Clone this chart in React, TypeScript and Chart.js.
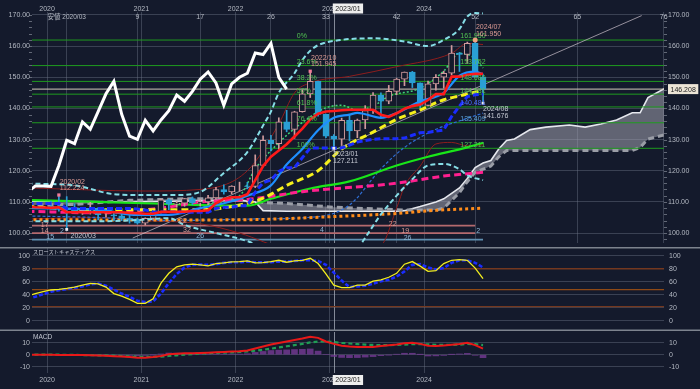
import React, { useEffect, useRef } from "react";
import { Chart, registerables } from "chart.js";

Chart.register(...registerables);

// ================= DATA =================
// monthly candles, month index m = 0 is 2020/01
const candleStartM = 0;
const opens = [
  108.6, 108.4, 108.0, 107.5, 107.2, 107.8, 107.9, 105.9, 105.9, 105.5, 104.7, 104.3,
  103.2, 104.7, 106.6, 110.7, 109.3, 109.6, 111.1, 109.7, 110.0, 111.3, 114.0, 113.2,
  115.1, 115.1, 115.0, 121.7, 129.8, 128.7, 135.7, 133.3, 139.0, 144.7, 148.7, 138.1,
  131.1, 130.1, 136.2, 132.8, 136.3, 139.3, 144.3, 142.3, 145.5, 149.4, 151.7, 148.2,
  141.0, 147.9, 150.0, 151.3, 157.8, 157.3, 160.9, 150.0,
];
const highs = [
  110.3, 112.224, 111.7, 109.4, 108.1, 109.85, 108.2, 107.05, 106.55, 106.1, 105.7, 104.75,
  104.9, 106.7, 110.95, 110.97, 110.2, 111.1, 111.6, 110.8, 112.1, 114.7, 115.5, 115.2,
  116.35, 116.3, 125.1, 131.25, 131.35, 137.0, 139.4, 139.1, 145.9, 151.945, 148.8, 138.2,
  131.6, 136.9, 137.9, 136.6, 140.9, 145.1, 145.0, 147.4, 149.7, 151.7, 151.9, 148.2,
  148.8, 150.9, 151.97, 160.2, 157.99, 161.3, 161.95, 150.9,
];
const lows = [
  107.7, 107.0, 101.18, 106.4, 106.0, 106.1, 104.2, 105.1, 104.0, 104.0, 103.2, 102.9,
  102.6, 104.4, 106.4, 107.5, 108.3, 108.6, 109.1, 108.7, 109.1, 110.8, 112.5, 112.6,
  113.5, 114.2, 114.6, 121.3, 126.35, 126.9, 132.5, 130.4, 138.8, 143.5, 137.5, 130.6,
  127.211, 128.1, 129.6, 130.6, 133.5, 138.4, 137.25, 141.5, 144.4, 147.3, 146.7, 140.25,
  140.8, 145.9, 146.5, 150.8, 151.86, 154.5, 151.9, 141.676,
];
const closes = [
  108.4, 107.9, 107.5, 107.2, 107.8, 107.9, 105.9, 105.9, 105.5, 104.7, 104.3, 103.2,
  104.7, 106.6, 110.7, 109.3, 109.6, 111.1, 109.7, 110.0, 111.3, 114.0, 113.2, 115.1,
  115.1, 115.0, 121.7, 129.8, 128.7, 135.7, 133.3, 138.95, 144.7, 148.7, 138.1, 131.1,
  130.1, 136.2, 132.8, 136.3, 139.3, 144.3, 142.3, 145.5, 149.4, 151.7, 148.2, 141.0,
  147.9, 150.0, 151.3, 157.8, 157.3, 160.9, 150.0, 146.208,
];
const lastPrice = 146.208;
const lastPriceText = "146.208";

// Ichimoku
const chikouShift = 25;
const chikouFirstIndex = 22;
const lineStartM = -3;
const tenkan = [
  108.5, 108.3, 108.2, 108.1, 108.3, 106.7, 106.7, 106.7, 106.7, 106.7, 106.7, 106.7, 106.7,
  106.45, 106.4, 106.2, 106.2, 106.8, 106.8, 106.8, 106.85, 107.1, 107.1, 107.35, 109.55,
  110.95, 111.5, 111.5, 112.5, 117, 121.5, 124.5, 126.5, 128.5, 131, 133.5, 136.5, 138.3,
  139, 139.2, 139.4, 139.6, 139.6, 139.6, 139.6, 138, 137.3, 138.45, 139.9, 140.75, 141.25,
  142.7, 144.6, 144.6, 150.2, 150.2, 150.8, 151.1, 151.1,
];
const kijun = [
  109.5, 109.5, 109.5, 109.5, 109.5, 107.9, 107.9, 107.9, 107.9, 107.9, 107.9, 107.9, 107.9,
  107.9, 107.7, 107.4, 106.8, 106.8, 106.8, 106.8, 106.7, 106.7, 106.7, 106.7, 107.9, 108.3,
  108.3, 108.8, 108.8, 113.1, 116.2, 117.0, 119.8, 121.0, 121.0, 124.2, 127.3, 127.3, 127.3,
  127.3, 127.3, 128.2, 129.2, 129.7, 130.1, 130.3, 130.3, 130.3, 130.5, 131.4, 132.2, 132.3,
  132.7, 133.1, 137.4, 140.75, 143.8, 144.4, 144.6,
];
const cloudM = [-3, 3, 10, 17, 24, 26, 27, 30, 36, 44, 45, 47, 49, 50, 52, 53, 54, 55, 56, 57, 58, 59, 61, 63, 66, 68, 70, 72, 74, 75, 76, 78, 79];
const spanA = [110.2, 110.2, 110.0, 110.3, 110.5, 110.0, 107.2, 107.0, 107.0, 107.0, 107.2, 108.5, 110.0, 111.0, 114.5, 117.5, 121.0, 122.5, 123.3, 127.0, 129.7, 130.2, 133.2, 134.0, 134.7, 134.0, 135.0, 136.3, 138.6, 138.6, 143.5, 146.2, 146.5];
const spanB = [109.0, 109.2, 110.5, 111.0, 111.0, 110.3, 109.8, 109.5, 108.3, 107.5, 107.4, 107.4, 107.4, 108.0, 113.0, 116.5, 119.5, 120.5, 121.5, 124.5, 126.5, 126.5, 126.5, 126.5, 126.5, 126.5, 126.5, 126.5, 126.5, 127.5, 130.2, 131.5, 131.8];

// moving averages / bands  [month, value]
const yellowMA = [[-3, 108.5], [6, 107.5], [19, 107.5], [24, 109], [27, 111.2], [30, 115.3], [34, 120], [37, 127], [41, 132.4], [44, 136.5], [47, 139.5], [50, 142.8], [52, 144], [55, 145.8]];
const greenMA = [[-3, 110.6], [6, 110], [13, 109.5], [19, 109], [25, 108.8], [28, 111], [33, 114.3], [38, 116.6], [44, 121.7], [48, 124.5], [53, 127.5], [55, 129]];
const magentaMA = [[-3, 107], [6, 106.5], [14, 108], [19, 110], [25, 110.8], [32, 113.3], [44, 116], [50, 118.3], [55, 119.5]];
const orangeMA = [[-3, 104.3], [13, 104.2], [25, 104.3], [36, 105.3], [44, 106.3], [49, 107.3], [55, 108]];
const blueMA = [[-3, 108], [6, 107.5], [11, 105.8], [15, 105.8], [19, 108], [23, 110.2], [25, 112], [28, 115.3], [30, 122], [32, 127], [34, 133], [36, 137], [38, 138], [39, 138.6], [42, 137], [44, 138.5], [47, 142.3], [50, 145], [52, 150.5], [54, 151.8], [55, 151]];
const bandUpper = [[-3, 115.9], [3, 115.3], [8, 112.5], [12, 112.2], [16, 112.2], [19, 113.2], [22, 119.3], [25, 126], [27, 134.5], [28, 139], [29, 145], [31, 151.3], [32, 155.5], [33, 158.5], [34, 160.3], [37, 162], [41, 162.5], [45, 161.5], [48, 160], [50, 162], [52, 165.5], [53, 169.5], [54, 170.6], [55, 170.5]];
const bandLower = [[-3, 103.8], [6, 103.8], [11, 104.2], [15, 104.8], [17, 102.6], [21, 100], [25, 97.4], [28, 94], [32, 90], [36, 90], [39, 95], [40, 98.5], [42, 106], [44, 112], [46, 117.3], [48, 121.7], [50, 122.2], [52, 120.5], [53, 118.5], [55, 117]];
const greenDotted = [[20, 109.5], [24, 112], [26, 120.6], [29, 129], [32, 135.5], [35, 140.2], [37, 141], [39, 139.5], [41, 140.7], [43, 143.9], [47, 146.5], [50, 152], [52, 157.7], [54, 156], [55, 153]];
const redThinUpper = [[-3, 114.5], [12, 113.5], [19, 114], [25, 120], [29, 135], [31, 145], [33, 148.2], [38, 150.3], [44, 153.4], [51, 157.7], [53, 160.9], [55, 160.5]];
const redThinLower = [[-3, 104.5], [6, 105], [12, 104], [19, 103], [24, 100], [30, 95], [38, 94], [42, 96], [44, 108], [45, 115], [47, 121.5], [49, 128.6], [51, 129.1], [53, 128], [55, 128.3]];
const blueThin = [[-3, 105.5], [6, 105], [15, 104], [25, 104.5], [34, 105.3], [38, 109], [42, 120.6], [45, 127.5], [49, 133.3], [52, 136], [55, 138.5]];
const trendLine = [[10.4, 98.4], [75.2, 169.8]];

// Fibonacci retracement 2023/01 low -> 2024/07 high
const fibLevels = [161.95, 153.752, 148.68, 144.581, 140.481, 135.409, 127.211];
const fibNames = ["0%", "23.6%", "38.2%", "50%", "61.8%", "76.4%", "100%"];
const fibValueText = ["161.950", "153.752", "148.680", "144.581", "140.481", "135.409", "127.211"];

// time-count lines at the bottom
const countLevels = [102.4, 100.0, 97.9];
const countLineEndM = [54, 54, 55];
const countNotes = [
  { m: -0.8, v: 102.7, t: "17", k: 0 }, { m: -0.8, v: 100.6, t: "14", k: 0 }, { m: -0.1, v: 98.6, t: "15", k: 2 },
  { m: 1.4, v: 100.6, t: "2", k: 2 }, { m: 16.8, v: 103.8, t: "22", k: 0 }, { m: 17.3, v: 101.1, t: "32", k: 0 },
  { m: 19, v: 98.9, t: "26", k: 2 }, { m: 34.5, v: 101, t: "4", k: 2 }, { m: 43.5, v: 102.9, t: "22", k: 0 },
  { m: 45.1, v: 100.6, t: "19", k: 0 }, { m: 45.4, v: 98.4, t: "26", k: 2 }, { m: 54.4, v: 100.6, t: "2", k: 2 },
];
const lowNote = { m: 4.1, v: 98.9, t: "2020/03" };
const extremeNotes = [
  { m: 1.1, v: 116.45, t: "2020/02", k: 0 }, { m: 1.1, v: 114.3, t: "112.224", k: 0 },
  { m: 33.1, v: 156.3, t: "2022/10", k: 0 }, { m: 33.1, v: 154.1, t: "151.945", k: 0 },
  { m: 54.1, v: 166.2, t: "2024/07", k: 0 }, { m: 54.1, v: 163.9, t: "161.950", k: 0 },
  { m: 35.9, v: 125.45, t: "2023/01", k: 1 }, { m: 35.9, v: 123.07, t: "127.211", k: 1 },
  { m: 55.0, v: 139.8, t: "2024/08", k: 1 }, { m: 55.0, v: 137.4, t: "141.676", k: 1 },
];
const highMarkIdx = [1, 33];
const peakMarkIdx = [54];
const lowMarkIdx = [2, 36, 55];

// stochastics & MACD, from month -3
const stochK = [38, 42, 45, 47.5, 48.5, 50, 52, 55, 57.5, 57, 52, 42, 38, 33, 27, 27, 34, 58, 73, 83, 86, 87, 86, 84.5, 88, 89, 90.5, 91, 92, 89, 89.5, 91, 93, 90, 92, 93, 96, 88, 72, 55, 51, 51, 55, 55, 61, 63, 67, 73, 87, 91, 84, 76, 77, 88, 93, 94, 93, 81, 65];
const stochD = [34, 37, 41, 45, 47, 49, 51, 53, 56, 57.5, 54, 48, 42, 37, 31, 29, 30, 42, 58, 72, 82, 86, 86.5, 86, 87, 89, 90, 90, 91, 90, 90, 90, 91, 91, 92, 93, 93, 92, 86, 74, 62, 52, 53, 54, 57, 61, 63, 68, 76, 86, 87, 82, 79, 81, 89, 93, 93, 89, 82];
const stochLevels = [80, 48, 22];
const macdLine = [0, 0, 0, 0, -0.2, -0.3, -0.3, -0.3, -0.4, -0.6, -0.8, -1.2, -1.6, -2, -2.5, -2.5, -2, -1, 0.3, 0.8, 1.1, 1.3, 1.5, 1.7, 2.0, 2.3, 2.6, 2.8, 3.5, 5.2, 6.8, 8.5, 9.8, 11, 12.3, 13.5, 15, 14, 11, 9, 7.5, 6.8, 6.4, 6.4, 6.5, 7.2, 7.8, 8.4, 9.6, 10, 9, 7.5, 7.3, 7.6, 8.3, 9, 10, 8, 5];
const signalLine = [0, 0, 0, 0, 0, -0.1, -0.2, -0.3, -0.4, -0.5, -0.6, -0.8, -1.1, -1.4, -1.7, -1.9, -1.9, -1.6, -1.1, -0.5, 0.1, 0.5, 0.9, 1.2, 1.5, 1.8, 2.0, 2.3, 2.7, 3.3, 4.1, 5.0, 6.0, 7.0, 8.0, 9.0, 10.2, 11, 11, 10.5, 9.8, 9.3, 8.8, 8.4, 8.1, 8.0, 8.0, 8.1, 8.4, 8.8, 8.9, 8.6, 8.3, 8.2, 8.2, 8.4, 8.9, 8.8, 8];
const macdHist = [0, 0, 0, 0, -0.2, -0.2, -0.1, 0, 0, -0.1, -0.2, -0.4, -0.5, -0.6, -0.8, -0.6, -0.1, 0.6, 1.4, 1.3, 1.0, 0.8, 0.6, 0.5, 0.5, 0.5, 0.6, 0.5, 0.8, 1.9, 2.7, 3.5, 3.8, 4.0, 4.3, 4.5, 4.8, 3.0, 0, -1.5, -2.3, -2.5, -2.4, -2.0, -1.6, -0.8, -0.2, 0.3, 1.2, 1.2, 0.1, -1.1, -1.0, -0.6, 0.1, 0.6, 1.1, -0.5, -2.5];

// axes
const yearLabels = ["2020", "2021", "2022", "2023", "2024"];
const yearStartM = [0, 12, 24, 36, 48];
const countBaseM = 2;
const countBaseLabel = "安値 2020/03";
const countNumbers = [9, 17, 26, 33, 42, 52, 65, 76];
const crosshairM = 36;
const crosshairLabel = "2023/01";
const priceTicks = [100, 110, 120, 130, 140, 150, 160, 170];
const stochTicks = [0, 20, 40, 60, 80, 100];
const macdTicks = [-10, 0, 10];

// ================= STYLE / LAYOUT =================
const BG = "#141a2c";
const GRID = "rgba(112,120,138,0.42)";
const AXIS_TEXT = "#b4b9c3";
const FONT = "'Liberation Sans', Arial, sans-serif";
const JP_FONT = "'Noto Sans CJK JP', sans-serif";
const BULL = "#cf9a9c";
const BEAR = "#2a9fd4";
const FIB_GREEN = "#1f9b1f";
const SALMON = "#dc9a94";
const LIGHT = "#c4c8d2";
const X_MIN = -2.42;
const X_MAX = 78.04;
const PRICE_MIN = 96.82;
const PRICE_MAX = 170.95;
const STOCH_MIN = -13.8;
const STOCH_MAX = 111.8;
const MACD_MIN = -15.25;
const MACD_MAX = 18.9;
const countColors = ["#b46a6e", "#b46a6e", "#5f8fb0"];
const noteColors = [SALMON, LIGHT, "#8fb8d8"];

const seq = (start: number, vals: number[]) => vals.map((v, i) => ({ x: start + i, y: v }));
const pairs = (arr: number[][]) => arr.map(([m, v]) => ({ x: m, y: v }));
const hline = (v: number, x0 = X_MIN, x1 = X_MAX) => [{ x: x0, y: v }, { x: x1, y: v }];
const fmt2 = (v: number) => Number(v).toFixed(2);

function line(data: any[], color: string, width: number, dash: number[], order: number, extra: any = {}) {
  return {
    type: "line", data, borderColor: color, borderWidth: width, borderDash: dash,
    pointRadius: 0, pointHoverRadius: 0, fill: false, order, tension: 0, ...extra,
  };
}
const smooth = { cubicInterpolationMode: "monotone" };

function xScale(ticksM: number[]) {
  return {
    type: "linear", min: X_MIN, max: X_MAX, offset: false,
    afterBuildTicks: (s: any) => { s.ticks = ticksM.map((v) => ({ value: v })); },
    afterFit: (s: any) => { s.height = 0; s.paddingLeft = 0; s.paddingRight = 0; s.paddingTop = 0; s.paddingBottom = 0; },
    ticks: { display: false },
    grid: { color: GRID, drawTicks: false, offset: false, lineWidth: 1 },
    border: { display: false },
  };
}
function yScale(pos: string, min: number, max: number, ticks: number[], fmt: (v: number) => string, width: number, padding: number, grid: boolean) {
  return {
    position: pos, min, max,
    afterBuildTicks: (s: any) => { s.ticks = ticks.map((v) => ({ value: v })); },
    afterFit: (s: any) => { s.width = width; s.paddingTop = 0; s.paddingBottom = 0; s.paddingLeft = 0; s.paddingRight = 0; },
    ticks: { color: AXIS_TEXT, font: { size: 7, family: FONT }, padding, autoSkip: false, maxRotation: 0, callback: (v: any) => fmt(v) },
    grid: grid ? { color: GRID, drawTicks: false, lineWidth: 1 } : { display: false, drawTicks: false },
    border: { display: false },
  };
}

function text(ctx: any, s: string, x: number, y: number, color: string, size: number, align = "left", family = FONT) {
  ctx.font = `${size}px ${family}`;
  ctx.fillStyle = color;
  ctx.textAlign = align;
  ctx.textBaseline = "middle";
  ctx.fillText(s, x, y);
}
function box(ctx: any, s: string, left: number, cy: number, bg: string, fg: string, size: number) {
  ctx.font = `${size}px ${FONT}`;
  const w = ctx.measureText(s).width + 5;
  ctx.fillStyle = bg;
  ctx.fillRect(left, cy - 5, w, 10);
  text(ctx, s, left + 2.5, cy + 0.5, fg, size);
}
function crosshair(chart: any) {
  const { ctx, chartArea: a, scales } = chart;
  const cx = Math.round(scales.x.getPixelForValue(crosshairM)) + 0.5;
  ctx.save();
  ctx.strokeStyle = "rgba(170,176,188,0.75)";
  ctx.lineWidth = 1;
  ctx.beginPath();
  ctx.moveTo(cx, a.top);
  ctx.lineTo(cx, a.bottom);
  ctx.stroke();
  ctx.restore();
}

const yearGridM = yearStartM.map((m) => m - 0.5);
const countGridM = countNumbers.map((n) => countBaseM + n);

const mainOverlay = {
  id: "mainOverlay",
  beforeDatasetsDraw(chart: any) {
    crosshair(chart);
    const { ctx, chartArea: a, scales } = chart;
    ctx.save();
    ctx.strokeStyle = "rgba(150,156,168,0.6)";
    ctx.lineWidth = 1;
    for (let v = 98; v <= 170; v += 2) {
      const py = Math.round(scales.y.getPixelForValue(v)) + 0.5;
      ctx.beginPath();
      ctx.moveTo(a.left - 3, py); ctx.lineTo(a.left, py);
      ctx.moveTo(a.right, py); ctx.lineTo(a.right + 3, py);
      ctx.stroke();
    }
    ctx.restore();
  },
  afterDatasetsDraw(chart: any) {
    const { ctx, chartArea: a, scales } = chart;
    const X = (m: number) => scales.x.getPixelForValue(m);
    const Y = (v: number) => scales.y.getPixelForValue(v);
    ctx.save();
    yearLabels.forEach((s, i) => text(ctx, s, X(yearGridM[i]), 9, AXIS_TEXT, 7, "center"));
    countNumbers.forEach((n, i) => text(ctx, String(n), X(countGridM[i]), 17, AXIS_TEXT, 7, "center"));
    text(ctx, countBaseLabel, X(countBaseM), 17, AXIS_TEXT, 6.5, "center", `'Liberation Sans', ${JP_FONT}`);
    box(ctx, crosshairLabel, X(crosshairM) - 1, 8.5, "#eeeeee", "#202020", 7);
    fibLevels.forEach((v, i) => {
      text(ctx, fibNames[i], X(31.3), Y(v) - 3.5, "#52c452", 7);
      const c = i === 4 ? "#4a6cff" : i === 5 ? "#5aa0d8" : "#52c452";
      text(ctx, fibValueText[i], X(52.1), Y(v) - 3.5, c, 7);
    });
    countNotes.forEach((n) => text(ctx, n.t, X(n.m), Y(n.v), noteColors[n.k], 7, "center"));
    text(ctx, lowNote.t, X(lowNote.m), Y(lowNote.v), LIGHT, 7, "center");
    extremeNotes.forEach((n) => text(ctx, n.t, X(n.m), Y(n.v), noteColors[n.k], 7, "left"));
    box(ctx, lastPriceText, a.right + 4, Y(lastPrice), "#ece4d6", "#222", 7);
    ctx.restore();
  },
};

const stochOverlay = {
  id: "stochOverlay",
  beforeDatasetsDraw(chart: any) { crosshair(chart); },
  afterDatasetsDraw(chart: any) {
    const { ctx, width, height } = chart;
    ctx.save();
    ctx.strokeStyle = "#7d838e";
    ctx.lineWidth = 1.5;
    ctx.beginPath();
    ctx.moveTo(0, 0.75); ctx.lineTo(width, 0.75);
    ctx.moveTo(0, height - 0.75); ctx.lineTo(width, height - 0.75);
    ctx.stroke();
    text(ctx, "スローストキャスティクス", 33, 5, LIGHT, 5.2, "left", JP_FONT);
    ctx.restore();
  },
};

const macdOverlay = {
  id: "macdOverlay",
  beforeDatasetsDraw(chart: any) { crosshair(chart); },
  afterDatasetsDraw(chart: any) {
    const { ctx, chartArea: a, scales } = chart;
    const X = (m: number) => scales.x.getPixelForValue(m);
    ctx.save();
    text(ctx, "MACD", 33, 6, LIGHT, 6.5, "left");
    yearLabels.forEach((s, i) => text(ctx, s, X(yearGridM[i]), a.bottom + 7, AXIS_TEXT, 7, "center"));
    box(ctx, crosshairLabel, X(crosshairM) - 1, a.bottom + 7, "#eeeeee", "#202020", 7);
    ctx.restore();
  },
};

function mainConfig(): any {
  const ms = opens.map((_, i) => candleStartM + i);
  const bull = opens.map((o, i) => closes[i] >= o);
  const chikou = closes.slice(chikouFirstIndex).map((c, i) => ({ x: candleStartM + chikouFirstIndex + i - chikouShift, y: c }));
  const datasets: any[] = [
    line(cloudM.map((m, i) => ({ x: m, y: spanA[i] })), "#e6e8ee", 1.6, [], 100, { fill: "+1", backgroundColor: "rgba(160,163,174,0.55)" }),
    line(cloudM.map((m, i) => ({ x: m, y: spanB[i] })), "#9a9da6", 3, [6, 4], 99),
    ...fibLevels.map((v) => line(hline(v), FIB_GREEN, 1, [], 95)),
    line(hline(lastPrice), "#d6cdbd", 1, [], 94),
    ...countLevels.map((v, i) => line(hline(v, X_MIN, countLineEndM[i]), countColors[i], 1.6, [], 93)),
    line(pairs(trendLine), "rgba(205,195,205,0.7)", 1, [], 90),
    line(pairs(redThinUpper), "#8e1d1d", 1, [], 72, smooth),
    line(pairs(redThinLower), "#8e1d1d", 1, [], 72, smooth),
    line(pairs(blueThin), "#2f6fd6", 1.2, [3, 2], 71, smooth),
    line(pairs(greenDotted), "#3fd27a", 1.5, [2, 2], 70, smooth),
    line(pairs(orangeMA), "#ff8c1a", 3, [3, 3], 66, smooth),
    line(pairs(greenMA), "#19e619", 2.2, [], 65, smooth),
    line(pairs(magentaMA), "#ff1f8f", 3, [7, 4], 64, smooth),
    line(pairs(yellowMA), "#f5f01c", 3, [7, 4], 63, smooth),
    {
      type: "bar", data: ms.map((m, i) => ({ x: m, y: [lows[i], highs[i]] })),
      backgroundColor: bull.map((b) => (b ? BULL : BEAR)), borderWidth: 0,
      barThickness: 1, grouped: false, order: 56,
    },
    {
      type: "bar", data: ms.map((m, i) => ({ x: m, y: [opens[i], closes[i]] })),
      backgroundColor: bull.map((b) => (b ? BG : BEAR)), borderColor: bull.map((b) => (b ? BULL : BEAR)),
      borderWidth: 1, borderSkipped: false, barThickness: 6, grouped: false, order: 55,
    },
    line(pairs(bandUpper), "#86dde6", 2, [5, 3], 50, smooth),
    line(pairs(bandLower), "#86dde6", 2, [5, 3], 50, smooth),
    line(pairs(blueMA), "#1e8fff", 2.2, [], 44, smooth),
    line(seq(lineStartM, kijun), "#1a2cff", 3, [6, 3], 43),
    line(seq(lineStartM, tenkan), "#ff1a1a", 2.6, [], 42),
    line(chikou, "#ffffff", 3, [], 30),
    { type: "line", showLine: false, data: highMarkIdx.map((i) => ({ x: ms[i], y: highs[i] })), pointStyle: "rect", pointRadius: 2.3, pointBackgroundColor: "#f07a98", pointBorderWidth: 0, order: 5 },
    { type: "line", showLine: false, data: peakMarkIdx.map((i) => ({ x: ms[i], y: highs[i] })), pointStyle: "circle", pointRadius: 2.5, pointBackgroundColor: "#f0a080", pointBorderWidth: 0, order: 5 },
    { type: "line", showLine: false, data: lowMarkIdx.map((i) => ({ x: ms[i], y: lows[i] })), pointStyle: "rect", pointRadius: 2, pointBackgroundColor: "#e8eaf2", pointBorderWidth: 0, order: 5 },
  ];
  return {
    type: "bar",
    data: { datasets },
    options: {
      animation: false, responsive: false, maintainAspectRatio: false,
      events: [],
      layout: { padding: { top: 12, bottom: 2, left: 0, right: 0 } },
      plugins: { legend: { display: false }, tooltip: { enabled: false } },
      scales: {
        x: xScale([...yearGridM, countBaseM, ...countGridM]),
        y: yScale("left", PRICE_MIN, PRICE_MAX, priceTicks, fmt2, 32, 2, true),
        y2: yScale("right", PRICE_MIN, PRICE_MAX, priceTicks, fmt2, 36, 4, false),
      },
    },
    plugins: [mainOverlay],
  };
}

function stochConfig(): any {
  return {
    type: "line",
    data: {
      datasets: [
        ...stochLevels.map((v, i) => line(hline(v), i === 1 ? "#8f4a16" : "#74381f", 1.3, [], 20)),
        line(seq(lineStartM, stochD), "#1a2cff", 2.6, [4, 2], 11),
        line(seq(lineStartM, stochK), "#f2ee1e", 1.3, [], 10),
      ],
    },
    options: {
      animation: false, responsive: false, maintainAspectRatio: false, events: [],
      layout: { padding: { top: 1, bottom: 1, left: 0, right: 0 } },
      plugins: { legend: { display: false }, tooltip: { enabled: false } },
      scales: {
        x: xScale(yearGridM),
        y: yScale("left", STOCH_MIN, STOCH_MAX, stochTicks, (v) => String(v), 32, 2, true),
        y2: yScale("right", STOCH_MIN, STOCH_MAX, stochTicks, (v) => String(v), 36, 5, false),
      },
    },
    plugins: [stochOverlay],
  };
}

function macdConfig(): any {
  return {
    type: "bar",
    data: {
      datasets: [
        { type: "bar", data: seq(lineStartM, macdHist), backgroundColor: "rgba(118,58,150,0.8)", barThickness: 6, grouped: false, order: 30 },
        line(seq(lineStartM, signalLine), "#1f9d55", 2.2, [4, 3], 20),
        line(seq(lineStartM, macdLine), "#e81818", 2, [], 10),
      ],
    },
    options: {
      animation: false, responsive: false, maintainAspectRatio: false, events: [],
      layout: { padding: { top: 1, bottom: 16, left: 0, right: 0 } },
      plugins: { legend: { display: false }, tooltip: { enabled: false } },
      scales: {
        x: xScale(yearGridM),
        y: yScale("left", MACD_MIN, MACD_MAX, macdTicks, (v) => String(v), 32, 2, true),
        y2: yScale("right", MACD_MIN, MACD_MAX, macdTicks, (v) => String(v), 36, 5, false),
      },
    },
    plugins: [macdOverlay],
  };
}

export default function App() {
  const mainRef = useRef<HTMLCanvasElement>(null);
  const stochRef = useRef<HTMLCanvasElement>(null);
  const macdRef = useRef<HTMLCanvasElement>(null);

  useEffect(() => {
    document.body.style.margin = "0";
    Chart.defaults.font.family = FONT;
    Chart.defaults.color = AXIS_TEXT;
    const charts = [
      new Chart(mainRef.current as any, mainConfig()),
      new Chart(stochRef.current as any, stochConfig()),
      new Chart(macdRef.current as any, macdConfig()),
    ];
    return () => charts.forEach((c) => c.destroy());
  }, []);

  const cs = (top: number, h: number): any => ({ position: "absolute", left: 0, top, width: 700, height: h, display: "block" });
  return (
    <div style={{ position: "fixed", left: 0, top: 0, width: 700, height: 389, background: BG, overflow: "hidden" }}>
      <canvas ref={mainRef} width={700} height={247} style={cs(0, 247)} />
      <canvas ref={stochRef} width={700} height={84} style={cs(247, 84)} />
      <canvas ref={macdRef} width={700} height={58} style={cs(331, 58)} />
    </div>
  );
}
